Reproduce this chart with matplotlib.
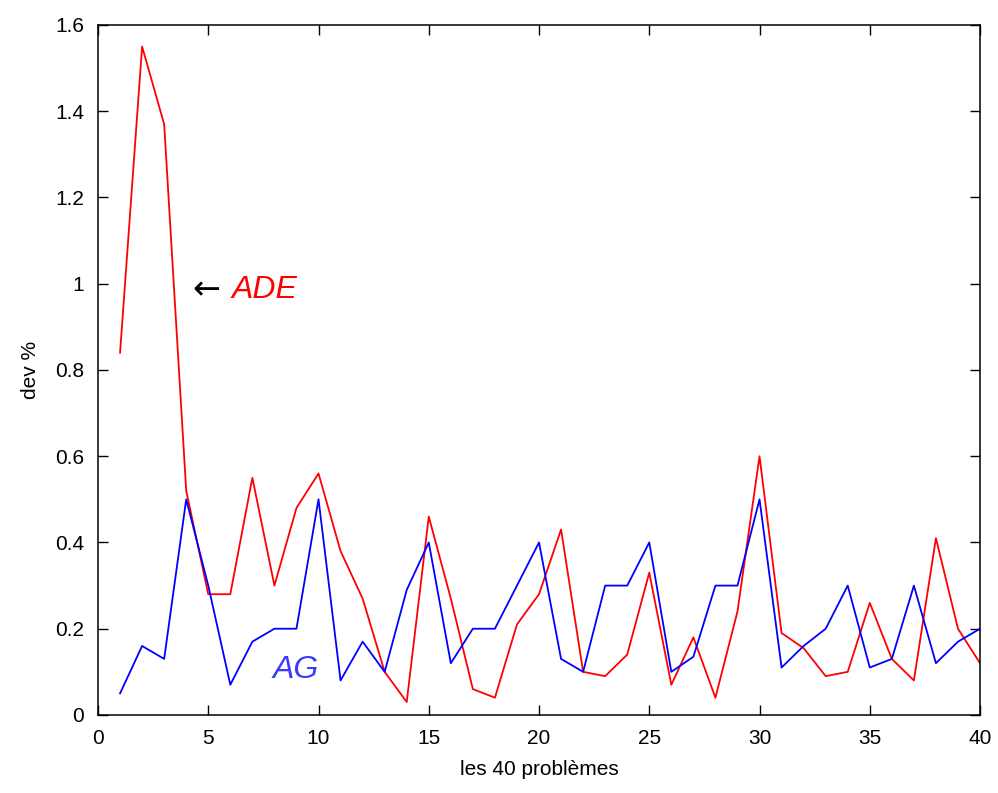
import matplotlib
matplotlib.use("Agg")
import matplotlib.pyplot as plt

problems = list(range(1, 41))
ade = [0.84, 1.55, 1.37, 0.52, 0.28, 0.28, 0.55, 0.30, 0.48, 0.56,
       0.38, 0.27, 0.10, 0.03, 0.46, 0.27, 0.06, 0.04, 0.21, 0.28,
       0.43, 0.10, 0.09, 0.14, 0.33, 0.07, 0.18, 0.04, 0.24, 0.60,
       0.19, 0.155, 0.09, 0.10, 0.26, 0.13, 0.08, 0.41, 0.20, 0.12]
ag = [0.05, 0.16, 0.13, 0.50, 0.30, 0.07, 0.17, 0.20, 0.20, 0.50,
      0.08, 0.17, 0.10, 0.29, 0.40, 0.12, 0.20, 0.20, 0.30, 0.40,
      0.13, 0.10, 0.30, 0.30, 0.40, 0.10, 0.135, 0.30, 0.30, 0.50,
      0.11, 0.16, 0.20, 0.30, 0.11, 0.13, 0.30, 0.12, 0.17, 0.20]
xticks = [0, 5, 10, 15, 20, 25, 30, 35, 40]
yticks = [0, 0.2, 0.4, 0.6, 0.8, 1, 1.2, 1.4, 1.6]
ytick_labels = ["0", "0.2", "0.4", "0.6", "0.8", "1", "1.2", "1.4", "1.6"]

plt.rcParams['font.family'] = ['Liberation Sans', 'DejaVu Sans']

fig = plt.figure(figsize=(9.98, 7.93), dpi=100)
ax = fig.add_axes([0.0982, 0.0984, 0.8838, 0.8701])

ax.plot(problems, ade, color='#ff0000', lw=1.3)
ax.plot(problems, ag, color='#0000ff', lw=1.3)

ax.set_xlim(0, 40)
ax.set_ylim(0, 1.6)
ax.set_xticks(xticks)
ax.set_yticks(yticks)
ax.set_yticklabels(ytick_labels)
ax.tick_params(direction='in', length=7, width=1.0, labelsize=15,
               top=True, right=True, pad=10)
for s in ax.spines.values():
    s.set_linewidth(1.1)

ax.set_xlabel("les 40 problèmes", fontsize=15, labelpad=9)
ax.set_ylabel("dev %", fontsize=15, labelpad=11)

ax.text(4.3, 0.985, "\u2190", fontsize=24, color='black', va='center',
        ha='left', family='DejaVu Sans')
ax.text(6.05, 0.985, "ADE", fontsize=23, color='#ff0000', style='italic',
        va='center', ha='left')
ax.text(7.9, 0.105, "AG", fontsize=23, color='#3a3aff', style='italic',
        va='center', ha='left')

fig.savefig("out.png", dpi=100)
